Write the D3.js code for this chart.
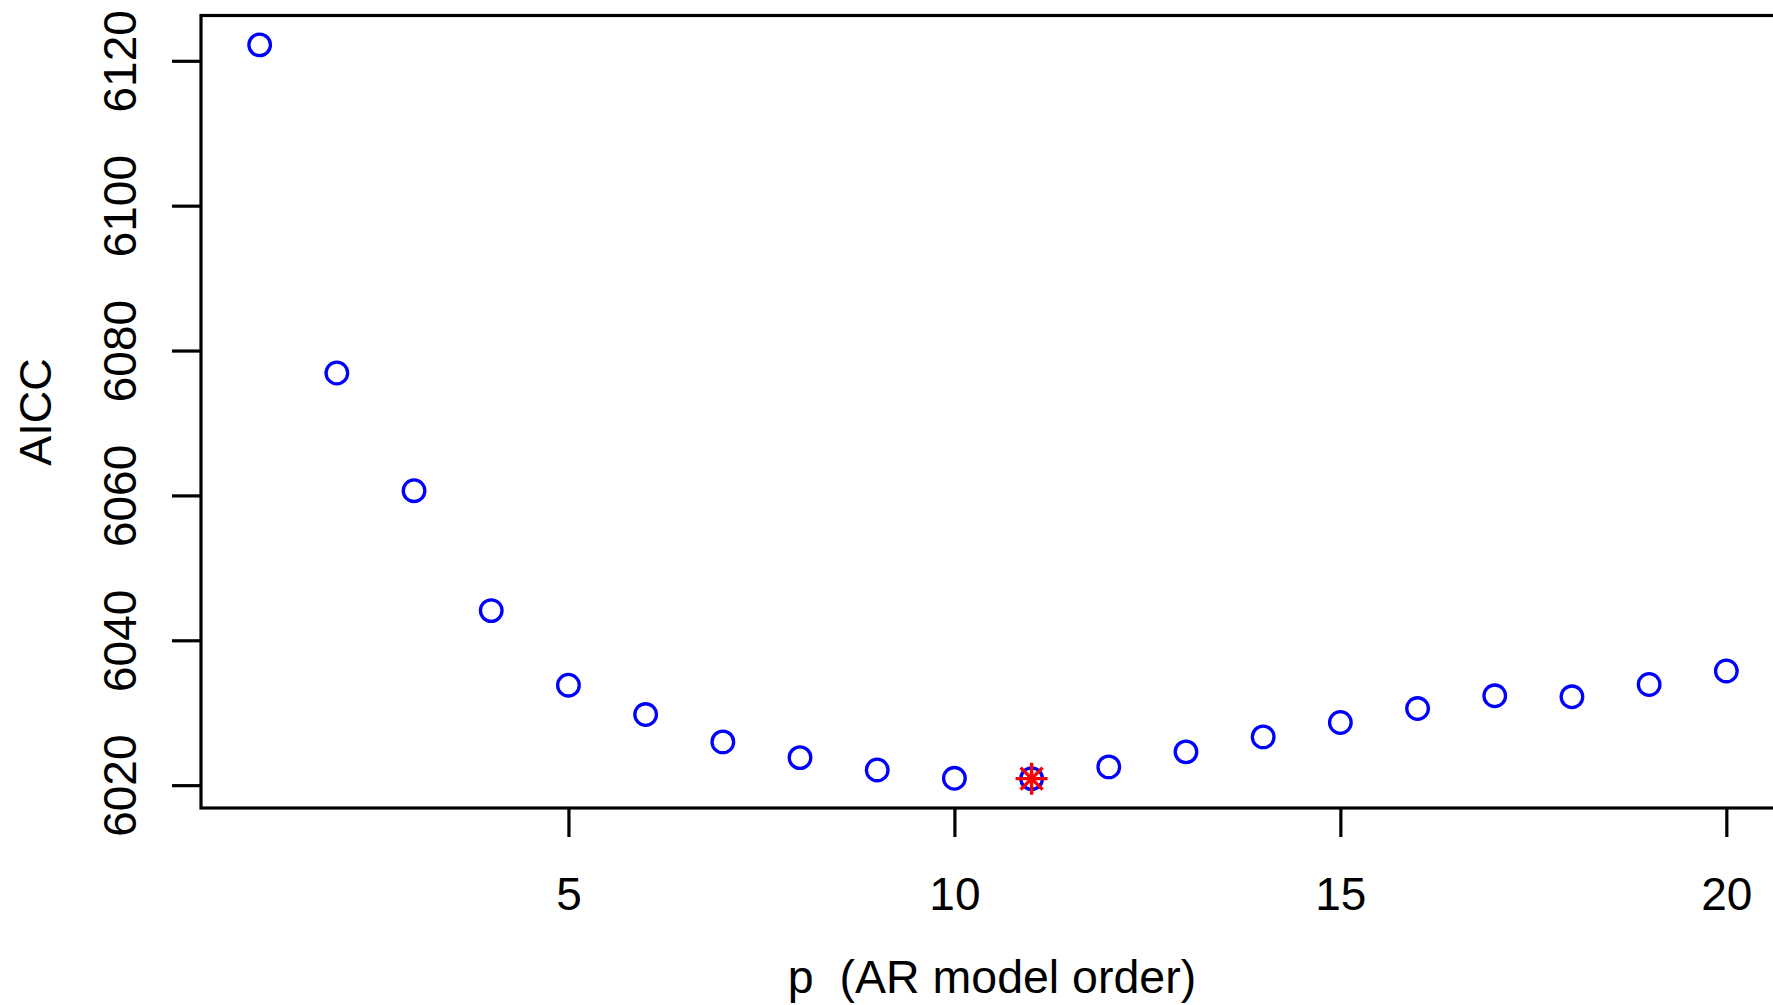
<!DOCTYPE html>
<html>
<head>
<meta charset="utf-8">
<script src="https://cdn.jsdelivr.net/npm/d3@7"></script>
<style>
  body { margin: 0; background: white; }
  text { font-family: "Liberation Sans", Arial, sans-serif; fill: black; white-space: pre; }
</style>
</head>
<body>
<div id="grafico"></div>
<script>
// AR model order vs AICC
var orders = [1, 2, 3, 4, 5, 6, 7, 8, 9, 10, 11, 12, 13, 14, 15, 16, 17, 18, 19, 20];
var aicc = [6122.2, 6076.9, 6060.65, 6044.1, 6033.8, 6029.75, 6025.97, 6023.8, 6022.1, 6020.95,
            6020.9, 6022.52, 6024.6, 6026.66, 6028.65, 6030.58, 6032.34, 6032.2, 6033.9, 6035.77];
var xTicks = [5, 10, 15, 20];
var yTicks = [6020, 6040, 6060, 6080, 6100, 6120];

var w = 1773,
    h = 1005,
    box = {left: 201, right: 1785, top: 15.5, bottom: 808};

var svg = d3.select("#grafico")
            .append("svg")
            .attr("width", w)
            .attr("height", h)
            .style("display", "block")
            .style("background-color", "white");

// R style limits: data range padded by 4%
var xPad = (d3.max(orders) - d3.min(orders)) * 0.04,
    yPad = (d3.max(aicc) - d3.min(aicc)) * 0.04;

var x = d3.scaleLinear()
        .domain([d3.min(orders) - xPad, d3.max(orders) + xPad])
        .range([box.left, box.right]),
    y = d3.scaleLinear()
        .domain([d3.min(aicc) - yPad, d3.max(aicc) + yPad])
        .range([box.bottom, box.top]);

var xAxis = d3.axisBottom(x).tickValues(xTicks).tickSize(29).tickSizeOuter(0).tickFormat(d3.format("d")),
    yAxis = d3.axisLeft(y).tickValues(yTicks).tickSize(29).tickSizeOuter(0).tickFormat(d3.format("d"));

var gx = svg.append("g")
    .attr("transform", "translate(0," + box.bottom + ")")
    .call(xAxis);
gx.select(".domain").remove();
gx.selectAll("line").attr("stroke", "black").attr("stroke-width", 3.2);
gx.selectAll("text")
    .attr("y", 102)
    .attr("dy", 0)
    .style("font-size", "46px");

var gy = svg.append("g")
    .attr("transform", "translate(" + box.left + ",0)")
    .call(yAxis);
gy.select(".domain").remove();
gy.selectAll("line").attr("stroke", "black").attr("stroke-width", 3.2);
gy.selectAll("text")
    .attr("x", 0)
    .attr("y", -65)
    .attr("dy", 0)
    .attr("transform", "rotate(-90)")
    .style("text-anchor", "middle")
    .style("font-size", "46px");

// plot box
svg.append("rect")
    .attr("x", box.left)
    .attr("y", box.top)
    .attr("width", box.right - box.left)
    .attr("height", box.bottom - box.top)
    .attr("fill", "none")
    .attr("stroke", "black")
    .attr("stroke-width", 3.2);

// points
svg.append("g").selectAll("circle")
    .data(orders)
    .enter()
    .append("circle")
    .attr("cx", function (d) { return x(d); })
    .attr("cy", function (d, i) { return y(aicc[i]); })
    .attr("r", 10.8)
    .attr("fill", "none")
    .attr("stroke", "#0000ff")
    .attr("stroke-width", 3.3);

// minimum AICC marked with a red asterisk
var iMin = d3.minIndex(aicc),
    cx = x(orders[iMin]),
    cy = y(aicc[iMin]),
    a = 16, b = 11;
svg.append("path")
    .attr("d", "M" + (cx - a) + "," + cy + "H" + (cx + a) +
               "M" + cx + "," + (cy - a) + "V" + (cy + a) +
               "M" + (cx - b) + "," + (cy - b) + "L" + (cx + b) + "," + (cy + b) +
               "M" + (cx - b) + "," + (cy + b) + "L" + (cx + b) + "," + (cy - b))
    .attr("fill", "none")
    .attr("stroke", "#ff0000")
    .attr("stroke-width", 3.4);

// axis titles
svg.append("text")
    .attr("x", (box.left + box.right) / 2 - 1)
    .attr("y", 993)
    .style("text-anchor", "middle")
    .style("font-size", "46.5px")
    .text("p  (AR model order)");

svg.append("text")
    .attr("transform", "translate(51,412) rotate(-90)")
    .style("text-anchor", "middle")
    .style("font-size", "45px")
    .text("AICC");
</script>
</body>
</html>
